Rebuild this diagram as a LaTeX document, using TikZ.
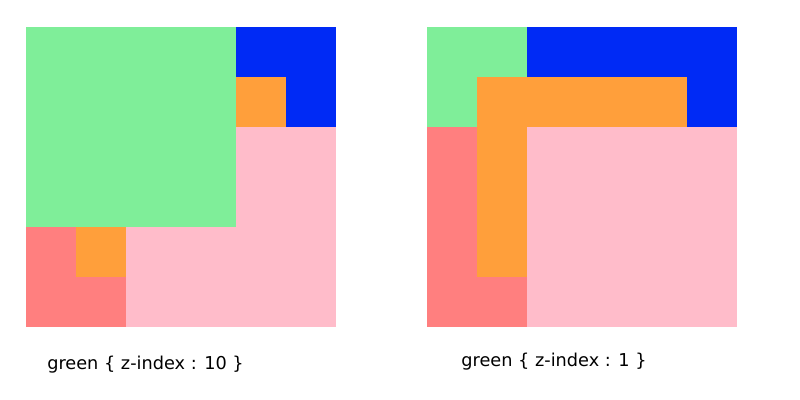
\documentclass[tikz,border=0pt]{standalone}
\usepackage{fontspec}
\setmainfont{DejaVu Sans}
\definecolor{leaf}{HTML}{7FEE99}
\definecolor{deepblue}{HTML}{002AF5}
\definecolor{amber}{HTML}{FF9F3B}
\definecolor{blush}{HTML}{FFBCCA}
\definecolor{coral}{HTML}{FF7F7F}
\begin{document}
\begin{tikzpicture}[x=0.025cm,y=-0.025cm,
 caption/.style={font=\fontsize{12.6}{15}\selectfont,inner sep=0pt}]
\path[use as bounding box,fill=white] (0,0) rectangle (800,400);
% left: green on top
\fill[coral] (26,127) rectangle (126,327);
\fill[deepblue] (126,27) rectangle (336,127);
\fill[amber] (76,77) rectangle (286,277);
\fill[blush] (126,127) rectangle (336,327);
\fill[leaf] (26,27) rectangle (236,227);
\node[caption] (capten) at (145.5,365) {green \{ z-index : 10 \}};
% right: green at the bottom
\fill[leaf] (427,27) rectangle (637,227);
\fill[coral] (427,127) rectangle (527,327);
\fill[deepblue] (527,27) rectangle (737,127);
\fill[amber] (477,77) rectangle (687,277);
\fill[blush] (527,127) rectangle (737,327);
\node[caption] (capone) at (554,362) {green \{ z-index : 1 \}};
\end{tikzpicture}
\end{document}
